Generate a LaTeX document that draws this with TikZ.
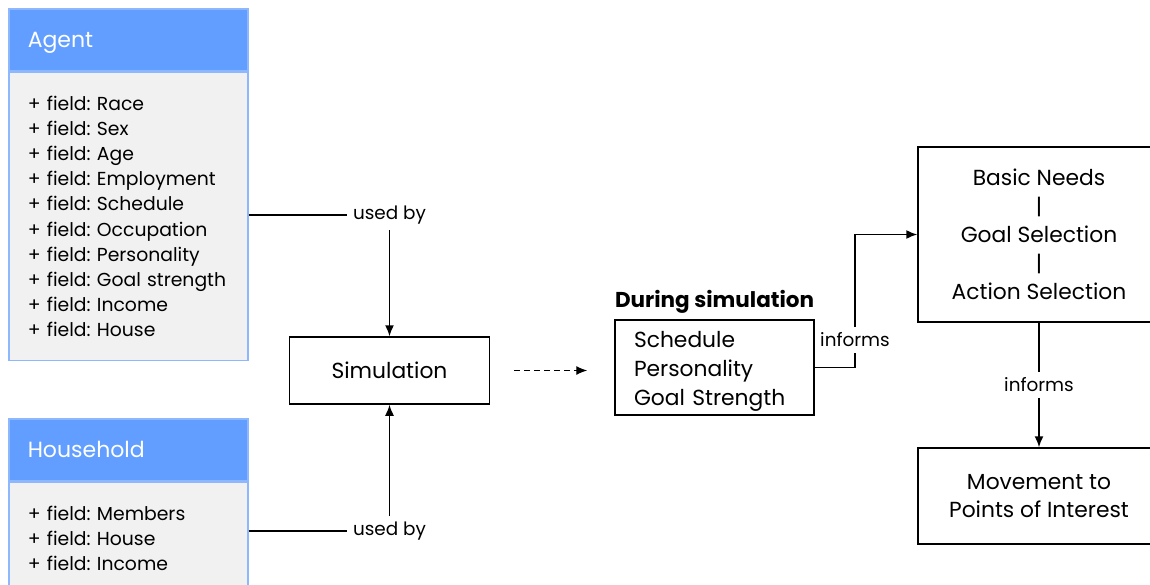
\documentclass[tikz,border=0pt]{standalone}
\usepackage{fontspec}
\setmainfont{Poppins}
\frenchspacing
\usetikzlibrary{arrows.meta, positioning, calc}
\definecolor{umlblue}{HTML}{629EFF}
\definecolor{umlline}{HTML}{8DB8FF}
\definecolor{umlfill}{HTML}{F1F1F1}

\begin{document}
\begin{tikzpicture}[x=1pt, y=-1pt, >={Latex[length=11pt,width=9pt]}, line width=1.5pt,
    head/.style={draw=umlline, fill=umlblue, text=white, text width=201pt, inner xsep=19pt, minimum height=62pt, text height=16pt, text depth=0pt, align=left, anchor=north west, font=\fontsize{22}{25}\selectfont},
    body/.style={draw=umlline, fill=umlfill, text width=201pt, inner xsep=19pt, inner ysep=23.5pt, align=left, font=\fontsize{18.8}{25.2}\selectfont},
    box/.style={draw, fill=white, align=center, font=\fontsize{21.8}{28.5}\selectfont},
    lbl/.style={fill=white, inner sep=5pt, font=\fontsize{18.4}{20}\selectfont}]

    \useasboundingbox (0,0) rectangle (1150,584);

    \node[head]          (agenthead) at (8,8)       {Agent};
    \node[body]          (agentbody) [below=0pt of agenthead] {+ field: Race\\+ field: Sex\\+ field: Age\\+ field: Employment\\+ field: Schedule\\+ field: Occupation\\+ field: Personality\\+ field: Goal strength\\+ field: Income\\+ field: House};
    \node[head]          (hhhead)    at (8,418)     {Household};
    \node[body]          (hhbody)    [below=0pt of hhhead] {+ field: Members\\+ field: House\\+ field: Income};

    \node[box, minimum width=200pt, minimum height=67pt] (sim) at (389.5,370.5) {Simulation};
    \node[lbl]           (use1)      at (389.5,215) {used by};
    \node[lbl]           (use2)      at (389.5,531) {used by};

    \node[box, text width=161pt, inner xsep=19pt, minimum height=93pt, align=left, font=\fontsize{21.8}{29}\selectfont] (params) at (714.5,367.5) {\rule{0pt}{24pt}Schedule\\Personality\\Goal Strength};
    \node[anchor=south west, inner xsep=0pt, inner ysep=5pt, font=\bfseries\fontsize{21.5}{24}\selectfont] (during) at (params.north west) {During simulation};
    \node[lbl]           (inf1)      at (855,340)   {informs};

    \node[box, minimum width=242pt, minimum height=175pt] (brain) at (1039,234.5) {Basic Needs\\|\\Goal Selection\\|\\Action Selection};
    \node[lbl]           (inf2)      at (1039,385)  {informs};
    \node[box, minimum width=242pt, minimum height=96pt, font=\fontsize{21.8}{28}\selectfont] (move) at (1039,496) {Movement to\\Points of Interest};

    \draw (use1.west -| agentbody.east) -- (use1.west);
    \draw[->] (use1) -- (sim);
    \draw (use2.west -| hhbody.east) -- (use2.west);
    \draw[->] (use2) -- (sim);
    \draw[->, dash pattern=on 6pt off 4pt, line width=1.2pt, shorten <=24pt, shorten >=27pt] (sim.east) -- (sim.east -| params.west);
    \draw (params.east) -| (inf1.south);
    \draw[->] (inf1.north) |- (brain.west);
    \draw (brain.south) -- (inf2.north);
    \draw[->] (inf2.south) -- (move.north);
\end{tikzpicture}
\end{document}
